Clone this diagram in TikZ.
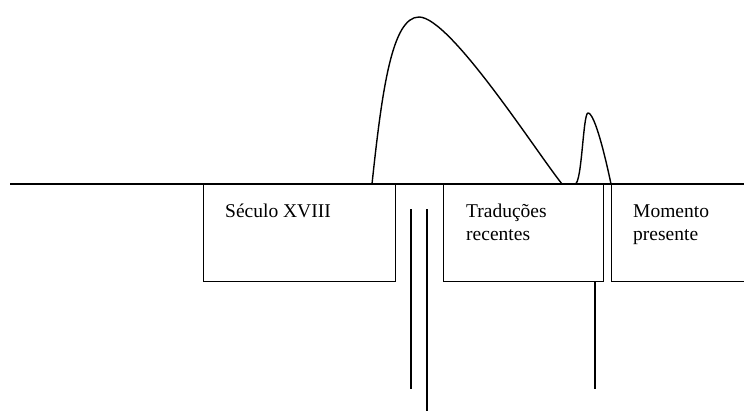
\documentclass[tikz,border=0pt]{standalone}
\usepackage{fontspec}
\setmainfont{Liberation Serif}
\begin{document}
\begin{tikzpicture}[x=1pt,y=-1pt,
  ln/.style={line width=1.4pt, black},
  box/.style={draw, line width=1.4pt, rectangle, inner sep=0pt, anchor=north west},
  lbl/.style={anchor=base west, inner sep=0pt, align=left, font=\fontsize{19.5}{23}\selectfont}]
\clip (0,0) rectangle (744,410);
\fill[white] (0,0) rectangle (744,410);
% boxes
\node[box, minimum width=192pt, minimum height=97pt] (b1) at (203,184) {};
\node[box, minimum width=160pt, minimum height=97pt] (b2) at (443,184) {};
\node[box, minimum width=150pt, minimum height=97pt] (b3) at (611,184) {};
% labels (anchor = baseline of last line)
\node[lbl] (t1) at (225,217) {Século XVIII};
\node[lbl] (t2) at (466,240) {Traduções\\recentes};
\node[lbl] (t3) at (633,240) {Momento\\presente};
% baseline
\coordinate (L0) at (10,184);
\coordinate (L1) at (750,184);
\draw[ln] (L0) -- (L1);
% curve
\coordinate (c0) at (372,184);
\coordinate (c1) at (419,17);
\coordinate (c2) at (562,184);
\coordinate (c3) at (575,184);
\coordinate (c4) at (588,113);
\coordinate (c5) at (611,184);
\draw[ln, line join=round] (c0) .. controls (382,90) and (392,17) .. (c1)
  .. controls (450,17) and (535,150) .. (c2) -- (c3)
  .. controls (582,184) and (583,113) .. (c4)
  .. controls (595,113) and (606,160) .. (c5);
% vertical lines
\coordinate (v1a) at (411,209);
\coordinate (v1b) at (411,389);
\coordinate (v2a) at (427,209);
\coordinate (v2b) at (427,412);
\coordinate (v3b) at (595,389);
\draw[ln] (v1a) -- (v1b);
\draw[ln] (v2a) -- (v2b);
\draw[ln] (b2.south -| v3b) -- (v3b);
\end{tikzpicture}
\end{document}
